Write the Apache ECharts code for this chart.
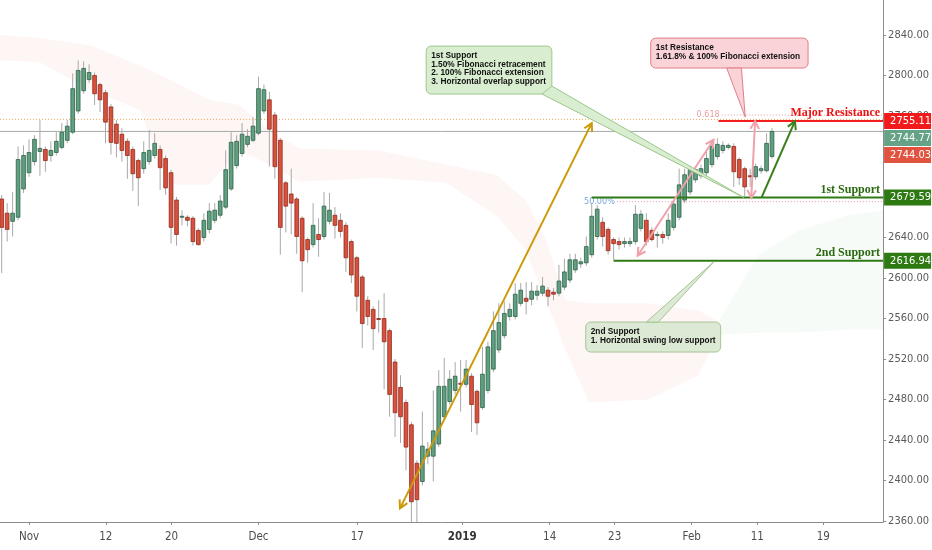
<!DOCTYPE html>
<html>
<head>
    <meta charset="UTF-8">
    <title>S&amp;P 500 - supports and resistance</title>
    <script src="https://cdn.jsdelivr.net/npm/echarts@6/dist/echarts.min.js"></script>
    <style>
        html, body { margin: 0; padding: 0; background: #fff; }
        #main { width: 932px; height: 550px; }
    </style>
</head>
<body>
<div id="main"></div>
<script type="text/javascript">
    // one bar per slot, slot 0 = first (cut) candle on the left
    // [open, close, low, high]
    var candles = [
        [2678, 2650, 2605, 2682], [2664, 2648, 2636, 2674], [2656, 2664, 2641, 2685], [2660, 2717, 2657, 2730],
        [2688, 2721, 2684, 2731], [2704, 2724, 2700, 2737], [2715, 2737, 2711, 2741], [2725, 2728, 2701, 2756],
        [2727, 2716, 2705, 2730], [2721, 2726, 2715, 2735], [2724, 2735, 2721, 2744], [2729, 2744, 2727, 2753],
        [2736, 2750, 2733, 2756], [2744, 2787, 2742, 2802], [2765, 2805, 2762, 2815], [2785, 2807, 2782, 2814],
        [2796, 2803, 2793, 2811], [2800, 2782, 2771, 2803], [2791, 2776, 2764, 2793], [2783, 2754, 2733, 2786],
        [2769, 2734, 2722, 2772], [2752, 2733, 2719, 2756], [2742, 2726, 2715, 2748], [2735, 2721, 2698, 2738],
        [2727, 2703, 2686, 2730], [2716, 2699, 2671, 2718], [2708, 2724, 2703, 2735], [2715, 2726, 2712, 2746],
        [2721, 2733, 2718, 2743], [2727, 2709, 2687, 2731], [2718, 2689, 2682, 2721], [2704, 2650, 2634, 2707],
        [2677, 2643, 2632, 2680], [2660, 2661, 2652, 2667], [2660, 2657, 2651, 2662], [2659, 2636, 2632, 2661],
        [2647, 2633, 2632, 2649], [2640, 2657, 2636, 2664], [2648, 2666, 2644, 2674], [2657, 2667, 2654, 2674],
        [2662, 2676, 2659, 2682], [2670, 2707, 2668, 2726], [2688, 2734, 2686, 2744], [2711, 2735, 2708, 2741],
        [2723, 2742, 2720, 2753], [2732, 2740, 2729, 2747], [2736, 2750, 2734, 2759], [2743, 2787, 2741, 2799],
        [2765, 2786, 2762, 2791], [2776, 2747, 2710, 2784], [2761, 2710, 2698, 2764], [2736, 2650, 2623, 2738],
        [2694, 2671, 2645, 2696], [2683, 2674, 2643, 2708], [2678, 2641, 2624, 2680], [2659, 2617, 2586, 2661],
        [2638, 2628, 2615, 2640], [2633, 2652, 2630, 2674], [2643, 2638, 2621, 2659], [2641, 2671, 2638, 2685],
        [2656, 2667, 2653, 2684], [2662, 2652, 2639, 2670], [2657, 2646, 2640, 2664], [2652, 2620, 2606, 2655],
        [2636, 2603, 2595, 2638], [2620, 2582, 2567, 2622], [2601, 2555, 2531, 2603], [2578, 2562, 2553, 2582],
        [2569, 2550, 2529, 2572], [2560, 2559, 2546, 2578], [2560, 2537, 2490, 2585], [2548, 2485, 2463, 2550],
        [2517, 2467, 2443, 2520], [2492, 2463, 2437, 2504], [2477, 2433, 2410, 2480], [2455, 2379, 2350, 2458],
        [2417, 2381, 2352, 2420], [2399, 2434, 2395, 2468], [2424, 2431, 2416, 2438], [2424, 2449, 2399, 2489],
        [2436, 2493, 2433, 2509], [2463, 2493, 2460, 2521], [2478, 2500, 2475, 2509], [2489, 2503, 2485, 2517],
        [2496, 2495, 2468, 2519], [2495, 2510, 2492, 2519], [2503, 2475, 2448, 2506], [2488, 2457, 2445, 2490],
        [2472, 2505, 2470, 2532], [2489, 2532, 2486, 2537], [2510, 2548, 2507, 2567], [2529, 2556, 2526, 2575],
        [2543, 2565, 2540, 2577], [2562, 2569, 2558, 2575], [2562, 2584, 2559, 2595], [2575, 2588, 2572, 2595],
        [2580, 2577, 2564, 2596], [2579, 2587, 2573, 2596], [2583, 2587, 2578, 2593], [2585, 2592, 2582, 2601],
        [2588, 2582, 2572, 2591], [2586, 2584, 2578, 2590], [2585, 2597, 2582, 2613], [2591, 2606, 2588, 2619],
        [2598, 2618, 2595, 2624], [2608, 2618, 2605, 2624], [2614, 2616, 2610, 2620], [2615, 2631, 2612, 2641],
        [2623, 2661, 2620, 2674], [2641, 2668, 2638, 2672], [2655, 2641, 2631, 2660], [2648, 2627, 2623, 2650],
        [2638, 2634, 2618, 2640], [2636, 2633, 2628, 2640], [2634, 2636, 2630, 2640], [2634, 2636, 2631, 2640],
        [2636, 2663, 2633, 2672], [2649, 2663, 2646, 2667], [2657, 2636, 2632, 2664], [2647, 2638, 2636, 2650],
        [2642, 2643, 2630, 2646], [2643, 2640, 2634, 2646], [2642, 2657, 2638, 2664], [2650, 2673, 2647, 2677],
        [2660, 2692, 2657, 2708], [2677, 2702, 2674, 2708], [2685, 2707, 2682, 2711], [2697, 2707, 2694, 2710],
        [2701, 2708, 2698, 2712], [2704, 2718, 2701, 2725], [2712, 2730, 2709, 2736], [2720, 2732, 2717, 2738],
        [2726, 2731, 2723, 2735], [2729, 2731, 2727, 2733], [2730, 2705, 2690, 2733], [2717, 2699, 2692, 2719],
        [2708, 2690, 2681, 2710], [2701, 2700, 2690, 2708], [2700, 2710, 2697, 2713], [2706, 2708, 2703, 2711],
        [2706, 2733, 2704, 2743], [2720, 2744.8, 2718, 2748]
    ];

    // date labels on the time scale (slot positions)
    var tickSlots = [5, 19.05, 31.1, 47, 65.1, 84.3, 100.3, 112.2, 126.3, 138.3, 150.4];
    var tickTexts = ['Nov', '12', '20', 'Dec', '17', '2019', '14', '23', 'Feb', '11', '19'];
    var priceTicks = [2360, 2400, 2440, 2480, 2520, 2560, 2600, 2640, 2680, 2720, 2760, 2800, 2840];

    // ichimoku cloud outline: [slot, upper, lower]
    var cloudRed = [
        [-0.3, 2840, 2815], [7, 2837, 2813], [16.1, 2830, 2786], [25.3, 2810, 2766], [30.7, 2796, 2692],
        [38, 2776, 2692], [43.5, 2771, 2726], [49, 2746, 2712], [54.5, 2728, 2695], [69.1, 2726, 2699],
        [81.3, 2712, 2694], [90.5, 2702, 2662], [95.9, 2677, 2628], [99.6, 2638, 2578], [103.2, 2578, 2529],
        [107.5, 2575, 2477], [118.4, 2575, 2480], [127.5, 2568, 2504], [131.2, 2557, 2544]
    ];
    var cloudGreen = [
        [131.2, 2557, 2544], [138.5, 2623, 2546], [145.8, 2647, 2546], [154.9, 2662, 2549], [161.4, 2667, 2549]
    ];

    var lastPrice = 2744.77;
    var prevClose = 2744.03;
    var dottedHigh = 2756.7;
    var fibValues = [2761, 2675.4];
    var fibLabels = ['0.618', '50.00%'];
    var fibStart = [131.8, 112.6];

    var levelNames = ['Major Resistance', '1st Support', '2nd Support'];
    var levelValues = [2755.11, 2679.59, 2616.94];
    var levelStart = [131.2, 108, 112];

    var tagValues = [2755.11, 2744.77, 2744.03, 2679.59, 2616.94];

    // arrows: [slotFrom, valueFrom, slotTo, valueTo, heads]
    var arrows = [
        [72.9, 2372.5, 108.0, 2753, 2],
        [116.4, 2622, 130.3, 2736.5, 2],
        [137.2, 2679, 137.9, 2755, 2],
        [139.1, 2679.6, 145.2, 2755, 1]
    ];

    // callouts: box [slotL, top, slotR, bottom], pointer base and tip
    var calloutBoxes = [[77.7, 2829.1, 100.7, 2781.7], [118.8, 2837.0, 147.6, 2807.4], [106.9, 2556.5, 131.6, 2526.9]];
    var calloutBases = [[[98.9, 2781.7], [100.7, 2789.6]], [[132.7, 2807.4], [135.4, 2807.4]], [[118.0, 2556.5], [120.2, 2556.5]]];
    var calloutTips = [[135.8, 2679.6], [136.1, 2759.0], [130.3, 2615.8]];
    var calloutTexts = [
        '1st Support\n1.50% Fibonacci retracement\n2. 100% Fibonacci extension\n3. Horizontal overlap support',
        '1st Resistance\n1.61.8% & 100% Fibonacci extension',
        '2nd Support\n1. Horizontal swing low support'
    ];

    var narrow = "'Liberation Sans Narrow','DejaVu Sans Condensed',sans-serif";

    var myChart = echarts.init(document.getElementById('main'));

    function candleItem(params, api) {
        var s = api.value(0);
        var o = api.coord([s, api.value(1)]);
        var c = api.coord([s, api.value(2)]);
        var lo = api.coord([s, api.value(3)]);
        var hi = api.coord([s, api.value(4)]);
        var w = api.size([1, 0])[0] * 0.68;
        var up = api.value(2) >= api.value(1);
        var top = Math.min(o[1], c[1]);
        var h = Math.max(Math.abs(o[1] - c[1]), 1);
        return {
            type: 'group',
            children: [
                {type: 'line', shape: {x1: o[0], y1: hi[1], x2: o[0], y2: lo[1]}, style: {stroke: '#a8a8a8', lineWidth: 1}},
                {
                    type: 'rect', shape: {x: o[0] - w / 2, y: top, width: w, height: h},
                    style: {fill: up ? '#5fa080' : '#d9513d', stroke: up ? '#2e5f47' : '#8e2b1d', lineWidth: 0.8}
                }
            ]
        };
    }

    var cloudColors = ['rgba(244, 67, 54, 0.05)', 'rgba(76, 160, 80, 0.045)'];
    var clouds = [cloudRed, cloudGreen];

    function cloudItem(params, api) {
        var band = clouds[params.dataIndex];
        var pts = [];
        var i;
        for (i = 0; i < band.length; i++) pts.push(api.coord([band[i][0], band[i][1]]));
        for (i = band.length - 1; i >= 0; i--) pts.push(api.coord([band[i][0], band[i][2]]));
        return {type: 'polygon', shape: {points: pts}, style: {fill: cloudColors[params.dataIndex]}};
    }

    var guideRows = [[-0.31, lastPrice], [-0.31, dottedHigh], [fibStart[0], fibValues[0]], [fibStart[1], fibValues[1]]];
    var guideStyles = [
        {stroke: '#a4aca8', lineWidth: 1},
        {stroke: '#f2a55c', lineWidth: 1, lineDash: [1, 2]},
        {stroke: '#ef98a4', lineWidth: 1, lineDash: [1, 2]},
        {stroke: '#e48fb0', lineWidth: 1, lineDash: [1, 2]}
    ];

    function guideItem(params, api) {
        var cs = params.coordSys;
        var i = params.dataIndex;
        var p = api.coord([api.value(0), api.value(1)]);
        var kids = [{type: 'line', shape: {x1: p[0], y1: p[1], x2: cs.x + cs.width, y2: p[1]}, style: guideStyles[i]}];
        if (i >= 2) {
            kids.push({
                type: 'text', x: p[0] - 2, y: p[1],
                style: {
                    text: fibLabels[i - 2], fill: i === 2 ? '#e8a0a4' : '#78a6e0',
                    font: '9px ' + narrow, align: 'right', verticalAlign: 'middle'
                }
            });
        }
        return {type: 'group', children: kids};
    }

    function levelItem(params, api) {
        var cs = params.coordSys;
        var i = params.dataIndex;
        var p = api.coord([api.value(0), api.value(1)]);
        var right = cs.x + cs.width;
        var col = i === 0 ? '#f31d1d' : '#2f7a14';
        return {
            type: 'group',
            children: [
                {type: 'line', shape: {x1: p[0], y1: p[1], x2: right, y2: p[1]}, style: {stroke: col, lineWidth: 2}},
                {
                    type: 'text', x: right - 3, y: p[1] - 2,
                    style: {
                        text: levelNames[i], fill: i === 0 ? '#ee1111' : '#2c6a12',
                        font: 'bold 12px "Liberation Serif", serif', align: 'right', verticalAlign: 'bottom'
                    }
                }
            ]
        };
    }

    var tagColors = ['#f21b1b', '#66a386', '#e2533f', '#2d7a12', '#2d7a12'];

    function tagItem(params, api) {
        var cs = params.coordSys;
        var y = -Infinity;
        for (var i = 0; i <= params.dataIndex; i++) {
            y = Math.max(api.coord([0, tagValues[i]])[1], y + 17);
        }
        var x = cs.x + cs.width + 1;
        return {
            type: 'group',
            children: [
                {type: 'rect', shape: {x: x, y: y - 8, width: 47, height: 16}, style: {fill: tagColors[params.dataIndex]}},
                {
                    type: 'text', x: x + 6, y: y,
                    style: {
                        text: tagValues[params.dataIndex].toFixed(2), fill: '#fff',
                        font: '11px ' + narrow, align: 'left', verticalAlign: 'middle'
                    }
                }
            ]
        };
    }

    var arrowColors = ['#cc9a08', '#f0a2ac', '#f0a2ac', '#3b7f1c'];

    function arrowHead(tip, from, color) {
        var ang = Math.atan2(tip[1] - from[1], tip[0] - from[0]);
        var len = 9, spread = 0.5;
        var p1 = [tip[0] - len * Math.cos(ang - spread), tip[1] - len * Math.sin(ang - spread)];
        var p2 = [tip[0] - len * Math.cos(ang + spread), tip[1] - len * Math.sin(ang + spread)];
        return {type: 'polyline', shape: {points: [p1, tip, p2]}, style: {stroke: color, lineWidth: 2, fill: null}};
    }

    function arrowItem(params, api) {
        var a = arrows[params.dataIndex];
        var col = arrowColors[params.dataIndex];
        var p0 = api.coord([a[0], a[1]]);
        var p1 = api.coord([a[2], a[3]]);
        var kids = [{type: 'line', shape: {x1: p0[0], y1: p0[1], x2: p1[0], y2: p1[1]}, style: {stroke: col, lineWidth: 2}}];
        kids.push(arrowHead(p1, p0, col));
        if (a[4] === 2) kids.push(arrowHead(p0, p1, col));
        return {type: 'group', children: kids};
    }

    var calloutFill = ['#d9edd0', '#f9d3d7', '#dce9d4'];
    var calloutStroke = ['#9cc78b', '#e27e88', '#a6c495'];

    function calloutItem(params, api) {
        var i = params.dataIndex;
        var b = calloutBoxes[i];
        var tl = api.coord([b[0], b[1]]);
        var br = api.coord([b[2], b[3]]);
        var b0 = api.coord(calloutBases[i][0]);
        var b1 = api.coord(calloutBases[i][1]);
        var tip = api.coord(calloutTips[i]);
        return {
            type: 'group',
            children: [
                {
                    type: 'rect', shape: {x: tl[0], y: tl[1], width: br[0] - tl[0], height: br[1] - tl[1], r: 5},
                    style: {fill: calloutFill[i], stroke: calloutStroke[i], lineWidth: 1}
                },
                {type: 'polygon', shape: {points: [b0, tip, b1]}, style: {fill: calloutFill[i], stroke: calloutStroke[i], lineWidth: 1}},
                {
                    type: 'text', x: tl[0] + 5, y: tl[1] + 5.5,
                    style: {
                        text: calloutTexts[i], fill: '#111', font: 'bold 8.3px "Liberation Sans", sans-serif',
                        lineHeight: 8.6, align: 'left', verticalAlign: 'top'
                    }
                }
            ]
        };
    }

    var option = {
        animation: false,
        backgroundColor: '#ffffff',
        grid: {left: 0, right: 47, top: 0, bottom: 28},
        xAxis: {
            type: 'value',
            min: -0.31,
            max: 161.33,
            splitLine: {show: false},
            axisLine: {show: true, onZero: false, lineStyle: {color: '#8c8c8c'}},
            axisTick: {show: true, length: 3, customValues: tickSlots, lineStyle: {color: '#8c8c8c'}},
            axisLabel: {
                customValues: tickSlots,
                margin: 9,
                color: '#4d4d4d',
                fontSize: 11.5,
                fontFamily: narrow,
                formatter: function (v) {
                    var k = tickSlots.indexOf(v);
                    var t = k >= 0 ? tickTexts[k] : '';
                    return t === '2019' ? '{b|' + t + '}' : t;
                },
                rich: {b: {fontWeight: 'bold', color: '#333', fontSize: 11.5, fontFamily: narrow}}
            }
        },
        yAxis: {
            type: 'value',
            position: 'right',
            min: 2359,
            max: 2874.6,
            splitLine: {show: false},
            axisLine: {show: true, onZero: false, lineStyle: {color: '#8c8c8c'}},
            axisTick: {show: true, length: 3, customValues: priceTicks, lineStyle: {color: '#8c8c8c'}},
            axisLabel: {
                customValues: priceTicks,
                margin: 5,
                color: '#5a5a5a',
                fontSize: 11,
                fontFamily: narrow,
                formatter: function (v) { return v.toFixed(2); }
            }
        },
        series: [
            {type: 'custom', name: 'cloud', data: [[0], [1]], renderItem: cloudItem, clip: true, silent: true, z: 1},
            {type: 'custom', name: 'guides', data: guideRows, renderItem: guideItem, silent: true, z: 2},
            {
                type: 'custom', name: 'candles',
                data: candles.map(function (c, i) { return [i, c[0], c[1], c[2], c[3]]; }),
                encode: {x: 0, y: [1, 2, 3, 4]},
                renderItem: candleItem, clip: true, z: 3
            },
            {
                type: 'custom', name: 'levels',
                data: levelValues.map(function (v, i) { return [levelStart[i], v]; }),
                renderItem: levelItem, silent: true, z: 4
            },
            {type: 'custom', name: 'arrows', data: arrows.map(function (a) { return [a[0], a[1]]; }), renderItem: arrowItem, silent: true, z: 5},
            {type: 'custom', name: 'callouts', data: calloutBoxes.map(function (b) { return [b[0], b[1]]; }), renderItem: calloutItem, silent: true, z: 6},
            {type: 'custom', name: 'tags', data: tagValues.map(function (v) { return [0, v]; }), renderItem: tagItem, silent: true, z: 7}
        ]
    };

    myChart.setOption(option);
</script>
</body>
</html>
